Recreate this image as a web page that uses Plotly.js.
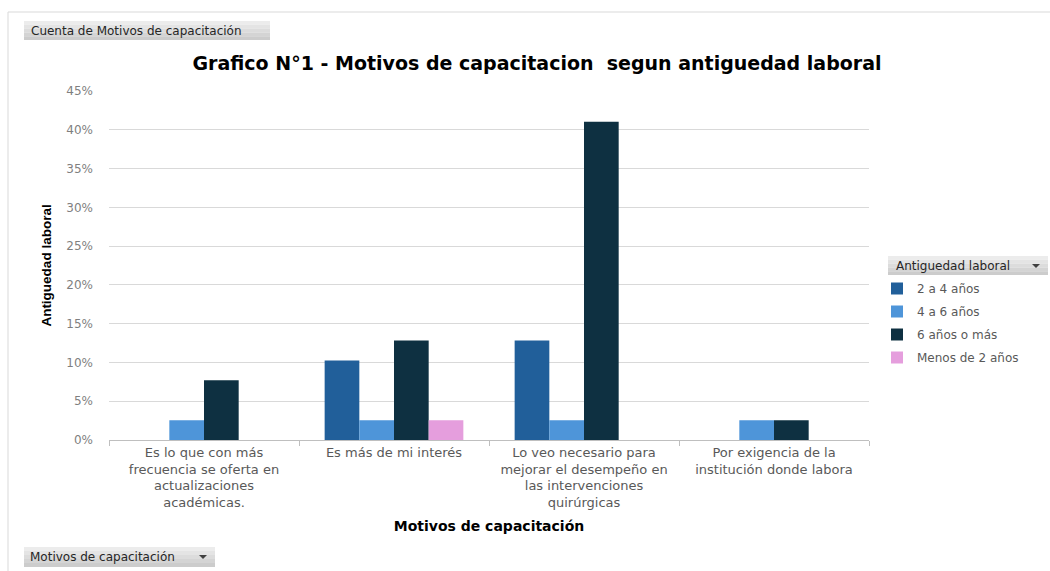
<!DOCTYPE html>
<html>
<head>
<meta charset="utf-8">
<script src="https://cdn.plot.ly/plotly-3.0.1.min.js"></script>
<style>html,body{margin:0;padding:0;background:#fff;}#chart{width:1050px;height:571px;}</style>
</head>
<body>
<div id="chart"></div>
<script>
// ---- Data ----
const categories = [
  "Es lo que con más<br>frecuencia se oferta en<br>actualizaciones<br>académicas.",
  "Es más de mi interés",
  "Lo veo necesario para<br>mejorar el desempeño en<br>las intervenciones<br>quirúrgicas",
  "Por exigencia de la<br>institución donde labora"
];
const seriesNames = ["2 a 4 años", "4 a 6 años", "6 años o más", "Menos de 2 años"];
const s2a4   = [null, 0.1026, 0.1282, null];
const s4a6   = [0.0256, 0.0256, 0.0256, 0.0256];
const s6mas  = [0.0769, 0.1282, 0.4103, 0.0256];
const sMenos = [null, 0.0256, null, null];
const yTicks = [0, 0.05, 0.10, 0.15, 0.20, 0.25, 0.30, 0.35, 0.40, 0.45];

const colors = ["#215f9a", "#4e95d9", "#0e3041", "#e59edd"];
const allSeries = [s2a4, s4a6, s6mas, sMenos];

// ---- Layout geometry ----
const W = 1050, H = 571;
const L = 109, R = 869, T = 91, B = 440;
const px = x => (x - L) / (R - L);
const py = y => (B - y) / (B - T);

const traces = allSeries.map((vals, i) => ({
  type: "bar",
  name: seriesNames[i],
  x: categories,
  y: vals,
  marker: {color: colors[i], line: {width: 0}},
  legendgroup: "g" + i,
  hoverinfo: "skip"
}));

function button(x0, y0, x1, y1) {
  const bands = ["#ececec", "#e4e4e4", "#dcdcdc", "#d4d4d4", "#cccccc"];
  const h = (y1 - y0) / bands.length;
  return bands.map((c, k) => ({
    type: "rect", xref: "paper", yref: "paper", layer: "below",
    x0: px(x0), x1: px(x1), y0: py(y0 + k * h), y1: py(y0 + (k + 1) * h),
    fillcolor: c, line: {width: 0}
  }));
}
function arrow(cx, cy) {
  return {
    type: "path", xref: "paper", yref: "paper",
    path: `M ${px(cx - 4)} ${py(cy - 2)} L ${px(cx + 4)} ${py(cy - 2)} L ${px(cx)} ${py(cy + 2)} Z`,
    fillcolor: "#404040", line: {width: 0}
  };
}

const shapes = [
  {type: "line", xref: "paper", yref: "paper", x0: px(8), x1: px(1050), y0: py(12), y1: py(12), line: {color: "#d9d9d9", width: 1}},
  {type: "line", xref: "paper", yref: "paper", x0: px(8), x1: px(8), y0: py(12), y1: py(571), line: {color: "#d9d9d9", width: 1}},
  ...button(24, 21, 270, 40),
  ...button(24, 547, 215, 567),
  ...button(888, 256, 1048, 275),
  arrow(203, 557),
  arrow(1036, 266)
];

const annotations = [
  {xref: "paper", yref: "paper", x: px(29), y: py(30.5), xanchor: "left", yanchor: "middle",
   text: "Cuenta de Motivos de capacitación", showarrow: false,
   font: {family: "DejaVu Sans, Verdana, sans-serif", size: 12, color: "#262626"}},
  {xref: "paper", yref: "paper", x: px(28), y: py(557), xanchor: "left", yanchor: "middle",
   text: "Motivos de capacitación", showarrow: false,
   font: {family: "DejaVu Sans, Verdana, sans-serif", size: 12, color: "#262626"}},
  {xref: "paper", yref: "paper", x: px(894), y: py(265.5), xanchor: "left", yanchor: "middle",
   text: "Antiguedad laboral", showarrow: false,
   font: {family: "DejaVu Sans, Verdana, sans-serif", size: 12, color: "#262626"}}
];

const layout = {
  width: W, height: H,
  paper_bgcolor: "#ffffff", plot_bgcolor: "#ffffff",
  margin: {l: L, r: W - R, t: T, b: H - B, pad: 0},
  title: {
    text: "<b>Grafico N°1 - Motivos de capacitacion  segun antiguedad laboral</b>",
    x: 537 / W, xanchor: "center", y: 1 - 63 / H, yanchor: "middle", yref: "container",
    font: {family: "DejaVu Sans, Verdana, sans-serif", size: 19, color: "#000000"}
  },
  barmode: "group",
  bargap: 0.27,
  bargroupgap: 0,
  showlegend: true,
  legend: {
    x: px(877), y: py(274), xanchor: "left", yanchor: "top",
    traceorder: "grouped", tracegroupgap: 4,
    font: {family: "DejaVu Sans, Verdana, sans-serif", size: 12, color: "#595959"},
    bgcolor: "rgba(0,0,0,0)", itemclick: false, itemdoubleclick: false
  },
  xaxis: {
    type: "category",
    showgrid: false,
    showline: true, linecolor: "#bfbfbf", linewidth: 1,
    ticks: "outside", tickson: "boundaries", ticklen: 5, tickcolor: "#bfbfbf",
    tickangle: 0,
    tickfont: {family: "DejaVu Sans, Verdana, sans-serif", size: 13, color: "#595959"},
    title: {
      text: "<b>Motivos de capacitación</b>", standoff: 11,
      font: {family: "DejaVu Sans, Verdana, sans-serif", size: 14, color: "#000000"}
    },
    fixedrange: true
  },
  yaxis: {
    range: [0, 0.45],
    tickvals: yTicks,
    tickformat: ".0%",
    showgrid: true, gridcolor: "#d9d9d9", gridwidth: 1,
    zeroline: false, showline: false,
    ticks: "", ticklabelstandoff: 15,
    tickfont: {family: "DejaVu Sans, Verdana, sans-serif", size: 12, color: "#7f7f7f"},
    title: {
      text: "<b>Antiguedad laboral</b>", standoff: 11,
      font: {family: "Liberation Sans, Arial, sans-serif", size: 13.5, color: "#000000"}
    },
    fixedrange: true
  },
  shapes: shapes,
  annotations: annotations
};

Plotly.newPlot("chart", traces, layout, {displayModeBar: false, staticPlot: true});
</script>
</body>
</html>
